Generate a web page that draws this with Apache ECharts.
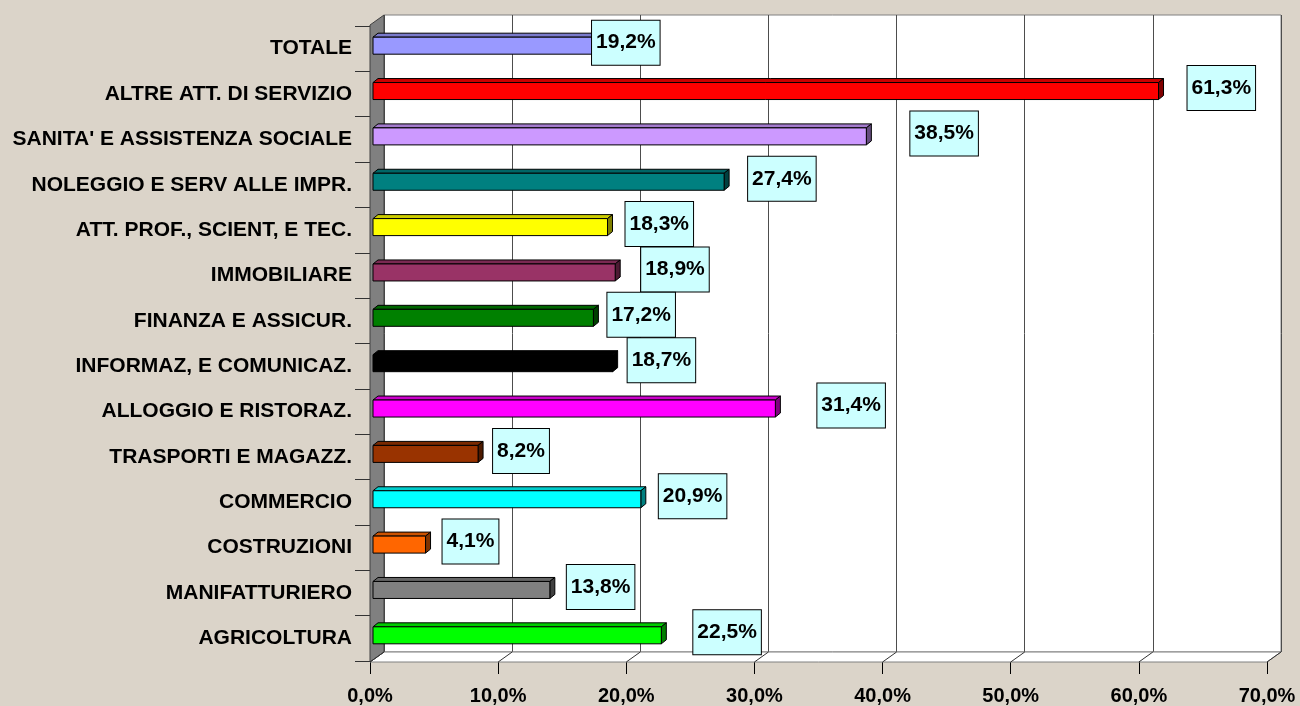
<!DOCTYPE html>
<html>
<head>
<meta charset="utf-8">
<style>
  html, body { margin: 0; padding: 0; }
  #container { width: 1300px; height: 706px; }
</style>
<script src="https://cdn.jsdelivr.net/npm/echarts@6/dist/echarts.min.js"></script>
</head>
<body>
<div id="container"></div>
<script>
// categories top to bottom
var categories = [
  'TOTALE',
  'ALTRE ATT. DI SERVIZIO',
  "SANITA' E ASSISTENZA SOCIALE",
  'NOLEGGIO E SERV ALLE IMPR.',
  'ATT. PROF., SCIENT, E TEC.',
  'IMMOBILIARE',
  'FINANZA E ASSICUR.',
  'INFORMAZ, E COMUNICAZ.',
  'ALLOGGIO E RISTORAZ.',
  'TRASPORTI E MAGAZZ.',
  'COMMERCIO',
  'COSTRUZIONI',
  'MANIFATTURIERO',
  'AGRICOLTURA'
];
var values = [19.2, 61.3, 38.5, 27.4, 18.3, 18.9, 17.2, 18.7, 31.4, 8.2, 20.9, 4.1, 13.8, 22.5];
var xTicks = [0, 10, 20, 30, 40, 50, 60, 70];

var barColors = ['#9999FF', '#FF0000', '#CC99FF', '#008080', '#FFFF00', '#993366', '#008000',
  '#000000', '#FF00FF', '#993300', '#00FFFF', '#FF6600', '#808080', '#00FF00'];
// the data labels were moved by hand in the original, px from the bar end
var labelShift = [-32, 24, 39, 19, 13, 21, 9, 10, 37, 10, 13, 12, 12, 27];

var W = 1300, H = 706;
// front plane of the 3D box (window.top is taken, hence the names)
var boxL = 370, boxR = 1267, boxT = 26, boxB = 662;
var dx = 14, dy = 10;

function fmt(v) {
  return v.toFixed(1).replace('.', ',') + '%';
}

function darken(c, k) {
  var rgb = echarts.color.parse(c);
  return 'rgb(' + Math.round(rgb[0] * k) + ',' + Math.round(rgb[1] * k) + ',' + Math.round(rgb[2] * k) + ')';
}

function renderBar(params, api) {
  var idx = api.value(1);
  var val = api.value(0);
  var p0 = api.coord([0, idx]);
  var p1 = api.coord([val, idx]);
  var x0 = p0[0] + 3, x1 = p1[0] + 3;
  var yTop = p0[1] - 3 - 8.5, yBot = yTop + 17;
  var d = 5, h = 4;
  var c = barColors[idx];
  return {
    type: 'group',
    children: [
      {
        type: 'polygon',
        shape: { points: [[x0, yTop], [x0 + d, yTop - h], [x1 + d, yTop - h], [x1, yTop]] },
        style: { fill: darken(c, 0.8), stroke: '#000', lineWidth: 1 }
      },
      {
        type: 'polygon',
        shape: { points: [[x1, yTop], [x1 + d, yTop - h], [x1 + d, yBot - h], [x1, yBot]] },
        style: { fill: darken(c, 0.5), stroke: '#000', lineWidth: 1 }
      },
      {
        type: 'rect',
        shape: { x: x0, y: yTop, width: x1 - x0, height: yBot - yTop },
        style: { fill: c, stroke: '#000', lineWidth: 1 }
      },
      {
        type: 'text',
        z2: 10,
        style: {
          text: fmt(val),
          x: x1 + d + labelShift[idx],
          y: p0[1] - 6,
          align: 'left',
          verticalAlign: 'middle',
          font: 'bold 21px Arial, "Liberation Sans"',
          fill: '#000',
          backgroundColor: '#CCFFFF',
          borderColor: '#000',
          borderWidth: 1,
          padding: [12, 4, 11, 4]
        }
      }
    ]
  };
}

var dom = document.getElementById('container');
var myChart = echarts.init(dom, null, { renderer: 'canvas' });

var option = {
  backgroundColor: '#DBD4C9',
  animation: false,
  grid: [
    { left: boxL, right: W - boxR, top: boxT, bottom: H - boxB },
    {
      left: boxL + dx, right: W - boxR - dx, top: boxT - dy - 1, bottom: H - boxB + dy,
      show: true, backgroundColor: '#FFFFFF', borderColor: '#808080', borderWidth: 1
    }
  ],
  xAxis: [
    {
      gridIndex: 0,
      type: 'value',
      min: 0,
      max: 70,
      interval: 10,
      axisLine: { show: true, lineStyle: { color: '#000', width: 1 } },
      axisTick: { show: true, length: 13, lineStyle: { color: '#000' } },
      splitLine: { show: false },
      axisLabel: {
        margin: 25,
        color: '#000',
        fontSize: 20,
        fontWeight: 'bold',
        fontFamily: 'Arial, "Liberation Sans"',
        formatter: fmt
      }
    },
    {
      gridIndex: 1,
      type: 'value',
      min: 0,
      max: 70,
      interval: 10,
      axisLine: { show: false },
      axisTick: { show: false },
      axisLabel: { show: false },
      splitLine: { show: true, lineStyle: { color: '#4d4d4d', width: 1 } }
    }
  ],
  yAxis: [
    {
      gridIndex: 0,
      type: 'category',
      inverse: true,
      data: categories,
      axisLine: { show: true, lineStyle: { color: '#000', width: 1 } },
      axisTick: { show: true, length: 15, lineStyle: { color: '#333' } },
      axisLabel: {
        margin: 18,
        color: '#000',
        fontSize: 21,
        fontWeight: 'bold',
        fontFamily: 'Arial, "Liberation Sans"'
      }
    },
    {
      gridIndex: 1,
      type: 'category',
      inverse: true,
      data: categories,
      show: false
    }
  ],
  series: [
    {
      type: 'custom',
      xAxisIndex: 0,
      yAxisIndex: 0,
      z: 5,
      clip: false,
      renderItem: renderBar,
      data: values.map(function (v, i) { return [v, i]; })
    }
  ]
};

myChart.setOption(option);

// left wall and floor of the 3D box, placed from the axes
var floorLines = xTicks.map(function (v) {
  var fx = myChart.convertToPixel({ xAxisIndex: 0 }, v);
  var bx = myChart.convertToPixel({ xAxisIndex: 1 }, v);
  return {
    type: 'line',
    z: 2,
    shape: { x1: fx, y1: boxB, x2: bx, y2: boxB - dy },
    style: { stroke: '#333', lineWidth: 1 }
  };
});

myChart.setOption({
  graphic: [
    {
      type: 'polygon',
      z: 1,
      shape: { points: [[boxL, boxB], [boxL + dx, boxB - dy], [boxR + dx, boxB - dy], [boxR, boxB]] },
      style: { fill: '#FFFFFF', stroke: '#808080', lineWidth: 1 }
    },
    {
      type: 'polygon',
      z: 1,
      shape: { points: [[boxL, boxT - 1], [boxL + dx, boxT - dy - 1], [boxL + dx, boxB - dy], [boxL, boxB]] },
      style: { fill: '#808080', stroke: '#404040', lineWidth: 1 }
    }
  ].concat(floorLines)
});

window.addEventListener('resize', myChart.resize);
</script>
</body>
</html>
